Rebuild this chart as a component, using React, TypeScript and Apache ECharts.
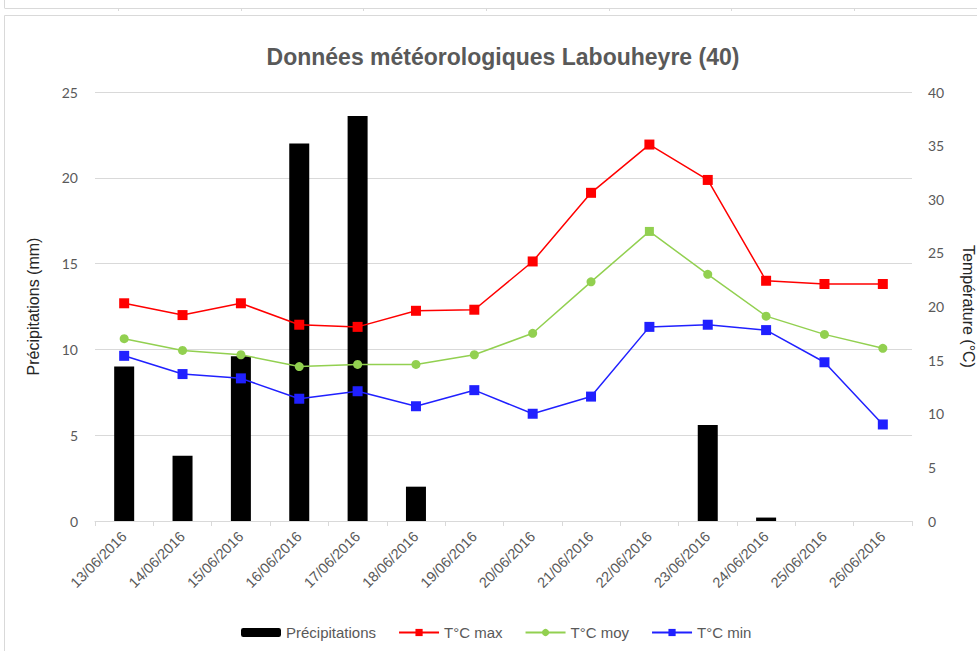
import React, { useEffect, useRef } from "react";
import * as echarts from "echarts";

const dates = [
  "13/06/2016", "14/06/2016", "15/06/2016", "16/06/2016", "17/06/2016",
  "18/06/2016", "19/06/2016", "20/06/2016", "21/06/2016", "22/06/2016",
  "23/06/2016", "24/06/2016", "25/06/2016", "26/06/2016",
];
const precipitations = [9.0, 3.8, 9.6, 22.0, 23.6, 2.0, 0, 0, 0, 0, 5.6, 0.2, 0, 0];
const tMax = [20.3, 19.2, 20.3, 18.3, 18.1, 19.6, 19.7, 24.2, 30.6, 35.1, 31.8, 22.4, 22.1, 22.1];
const tMoy = [17.0, 15.9, 15.5, 14.4, 14.6, 14.6, 15.5, 17.5, 22.3, 27.0, 23.0, 19.1, 17.4, 16.1];
const tMin = [15.4, 13.7, 13.3, 11.4, 12.1, 10.7, 12.2, 10.0, 11.6, 18.1, 18.3, 17.8, 14.8, 9.0];

const seriesNames = ["Précipitations", "T°C max", "T°C moy", "T°C min"];
const colors = ["#000000", "#FF0000", "#92D050", "#2020FF"];
const leftTicks = { min: 0, max: 25, interval: 5 };
const rightTicks = { min: 0, max: 40, interval: 5 };
const topStripTicks = [118, 241, 363, 486, 609, 731, 854];

const FONT = "'Liberation Sans', Arial, sans-serif";
const NUMFONT = "Lato, 'Open Sans', sans-serif";

export default function App() {
  const ref = useRef<HTMLDivElement>(null);
  useEffect(() => {
    if (!ref.current) return;
    const chart = echarts.init(ref.current, null, { renderer: "svg" });
    const border = "#d9d9d9";
    const graphics: any[] = [
      { type: "line", shape: { x1: 4.5, y1: 0, x2: 4.5, y2: 8 }, style: { stroke: border, lineWidth: 1 } },
      { type: "line", shape: { x1: 4.5, y1: 8.5, x2: 977, y2: 8.5 }, style: { stroke: border, lineWidth: 1 } },
      ...topStripTicks.map((x) => ({
        type: "line",
        shape: { x1: x + 0.5, y1: 8.5, x2: x + 0.5, y2: 11 },
        style: { stroke: border, lineWidth: 1 },
      })),
      { type: "line", shape: { x1: 4.5, y1: 15.5, x2: 977, y2: 15.5 }, style: { stroke: border, lineWidth: 1 } },
      { type: "line", shape: { x1: 4.5, y1: 15.5, x2: 4.5, y2: 651 }, style: { stroke: border, lineWidth: 1 } },
    ];
    chart.setOption({
      animation: false,
      backgroundColor: "#ffffff",
      graphic: graphics,
      title: {
        text: "Données météorologiques Labouheyre (40)",
        left: 498,
        top: 40,
        textAlign: "center",
        textStyle: { fontFamily: FONT, fontWeight: "bold", fontSize: 23, color: "#595959" },
      },
      grid: { left: 95, right: 65, top: 92, bottom: 130, containLabel: false, outerBoundsMode: "none" },
      legend: {
        data: seriesNames,
        left: 241,
        top: 625,
        padding: 0,
        itemWidth: 40,
        itemHeight: 9,
        itemGap: 22,
        textStyle: { fontFamily: FONT, fontSize: 15, color: "#595959" },
      },
      xAxis: {
        type: "category",
        data: dates,
        boundaryGap: true,
        axisLine: { lineStyle: { color: border } },
        axisTick: { show: true, length: 5, lineStyle: { color: border } },
        axisLabel: {
          rotate: 45,
          interval: 0,
          margin: 13,
          fontFamily: FONT,
          fontSize: 14.5,
          color: "#595959",
        },
      },
      yAxis: [
        {
          type: "value",
          ...leftTicks,
          name: "Précipitations (mm)",
          nameLocation: "middle",
          nameGap: 54,
          nameRotate: 90,
          nameTextStyle: { fontFamily: FONT, fontSize: 16, color: "#262626" },
          axisLine: { show: false },
          axisTick: { show: false },
          splitLine: { show: true, lineStyle: { color: border } },
          axisLabel: { margin: 17, fontFamily: NUMFONT, fontSize: 14, color: "#595959" },
        },
        {
          type: "value",
          ...rightTicks,
          position: "right",
          name: "Température (°C)",
          nameLocation: "middle",
          nameGap: 48,
          nameRotate: -90,
          nameTextStyle: { fontFamily: FONT, fontSize: 16, color: "#262626" },
          axisLine: { show: false },
          axisTick: { show: false },
          splitLine: { show: false },
          axisLabel: { margin: 16, fontFamily: NUMFONT, fontSize: 14, color: "#595959" },
        },
      ],
      series: [
        {
          name: seriesNames[0],
          type: "bar",
          yAxisIndex: 0,
          data: precipitations,
          barWidth: 20,
          itemStyle: { color: colors[0] },
        },
        {
          name: seriesNames[1],
          type: "line",
          yAxisIndex: 1,
          data: tMax,
          symbol: "rect",
          symbolSize: 10,
          lineStyle: { color: colors[1], width: 1.5 },
          itemStyle: { color: colors[1] },
        },
        {
          name: seriesNames[2],
          type: "line",
          yAxisIndex: 1,
          data: tMoy.map((v, i) => (i === 9 ? { value: v, symbol: "rect" } : v)),
          symbol: "circle",
          symbolSize: 9,
          lineStyle: { color: colors[2], width: 1.5 },
          itemStyle: { color: colors[2] },
        },
        {
          name: seriesNames[3],
          type: "line",
          yAxisIndex: 1,
          data: tMin,
          symbol: "rect",
          symbolSize: 10,
          lineStyle: { color: colors[3], width: 1.5 },
          itemStyle: { color: colors[3] },
        },
      ],
    });
    return () => chart.dispose();
  }, []);
  return (
    <div
      ref={ref}
      style={{ position: "absolute", left: 0, top: 0, width: 977, height: 651, background: "#fff" }}
    />
  );
}
